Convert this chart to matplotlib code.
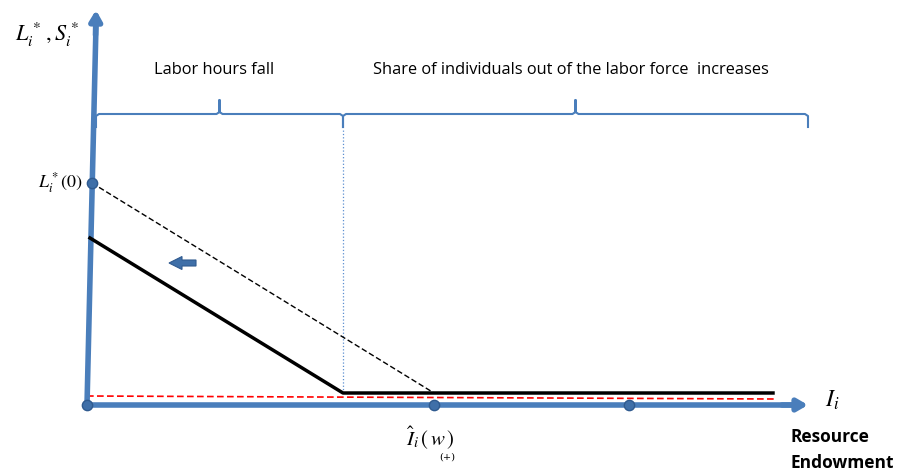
import numpy as np
import matplotlib
matplotlib.use('Agg')
import matplotlib.pyplot as plt
from matplotlib.patches import FancyArrow

plt.rcParams['mathtext.fontset'] = 'stix'

# ------------------------ DIAGRAM DATA ------------------------ #
# resource endowment (x) and labor hours (y), arbitrary units
i_hat = 3.47            # threshold endowment I_hat(w)
i_kink = 2.56           # kink of the new labor supply curve
i_third = 5.42          # extra marked point on the axis
i_end = 6.86            # where the curves stop
l0 = 2.22               # L*(0), old intercept
l_new0 = 1.67           # new intercept
l_floor = 0.12          # flat part of the curves
red_y = [0.09, 0.06]    # red dashed reference line

old_x = [0.05, i_hat, i_end]
old_y = [l0, l_floor, l_floor]
new_x = [0.03, i_kink, i_end]
new_y = [l_new0, l_floor, l_floor]
axis_dots = [0.0, i_hat, i_third]

brace_ranges = [(0.09, i_kink), (i_kink, 7.21)]
brace_labels = ['Labor hours fall',
                'Share of individuals out of the labor force  increases']
# --------------------------------------------------------------- #

blue = '#4a7ebb'

fig = plt.figure(figsize=(9, 4.7), dpi=100)
ax = fig.add_axes([0, 0, 1, 1])
ax.set_xlim(-0.87, 8.13)
ax.set_ylim(-0.65, 4.05)
ax.axis('off')

# axes of the diagram
ax.plot([0, 0.09], [0, 3.8], color=blue, lw=4, solid_capstyle='butt', zorder=3)
ax.plot([0, 7.05], [0, 0], color=blue, lw=4, solid_capstyle='butt', zorder=3)
ax.annotate('', xy=(0.09, 3.95), xytext=(0.085, 3.7),
            arrowprops=dict(arrowstyle='-|>,head_width=0.35,head_length=0.6',
                            color=blue, lw=4, shrinkA=0, shrinkB=0), zorder=3)
ax.annotate('', xy=(7.21, 0.0), xytext=(6.95, 0.0),
            arrowprops=dict(arrowstyle='-|>,head_width=0.35,head_length=0.6',
                            color=blue, lw=4, shrinkA=0, shrinkB=0), zorder=3)

# curves
ax.plot(old_x, old_y, color='black', lw=1, ls=(0, (4, 2)), zorder=4)
ax.plot(new_x, new_y, color='black', lw=2.5, zorder=4)
ax.plot([0, i_end + 0.02], red_y, color='red', lw=1.2, ls=(0, (4, 2)), zorder=2)
ax.plot([i_kink, i_kink], [l_floor, 2.77], color='#5b8fd0', lw=0.9, ls=':', zorder=2)

# dots
ax.scatter(axis_dots, [0] * len(axis_dots), s=55, color='#3f6fa8',
           edgecolor='#2f5a8f', zorder=5)
ax.scatter([0.05], [l0], s=55, color='#3f6fa8', edgecolor='#2f5a8f', zorder=5)

# shift arrow
ax.add_patch(FancyArrow(1.09, 1.42, -0.14, 0, width=0.06, head_width=0.13,
                        head_length=0.13, color='#3f6fa8', ec='#2f5a8f', lw=0.8,
                        length_includes_head=False, zorder=5))

# braces
yb, drop, peak = 2.91, 0.13, 0.14
for (x0, x1), lab in zip(brace_ranges, brace_labels):
    xm = (x0 + x1) / 2
    bx = [x0, x0, x0 + 0.03, xm - 0.03, xm, xm, xm, xm + 0.03, x1 - 0.03, x1, x1]
    by = [yb - drop, yb - 0.02, yb, yb, yb + 0.02, yb + peak, yb + 0.02,
          yb, yb, yb - 0.02, yb - drop]
    ax.plot(bx, by, color=blue, lw=1.5, solid_joinstyle='round')
    ax.text(xm - 0.05, 3.35, lab, ha='center', va='center', fontsize=11.8,
            family='Open Sans', color='black')

# labels
ax.text(-0.72, 3.7, r'$L^*_i\,,S^*_i$', fontsize=16, ha='left', va='center')
ax.text(-0.04, 2.22, r'$L^*_i(0)$', fontsize=13, ha='right', va='center')
ax.text(3.43, -0.33, r'$\hat{I}_i\,(\,w\,)$', fontsize=15, ha='center', va='center')
ax.text(3.6, -0.52, '(+)', fontsize=7, ha='center', va='center', family='DejaVu Serif')
ax.text(7.38, 0.05, r'$I_i$', fontsize=17, ha='left', va='center')
ax.text(7.03, -0.45, 'Resource\nEndowment', fontsize=12.5, fontweight='bold',
        ha='left', va='center', linespacing=1.5, family='Open Sans')

fig.savefig('out.png', dpi=100)
